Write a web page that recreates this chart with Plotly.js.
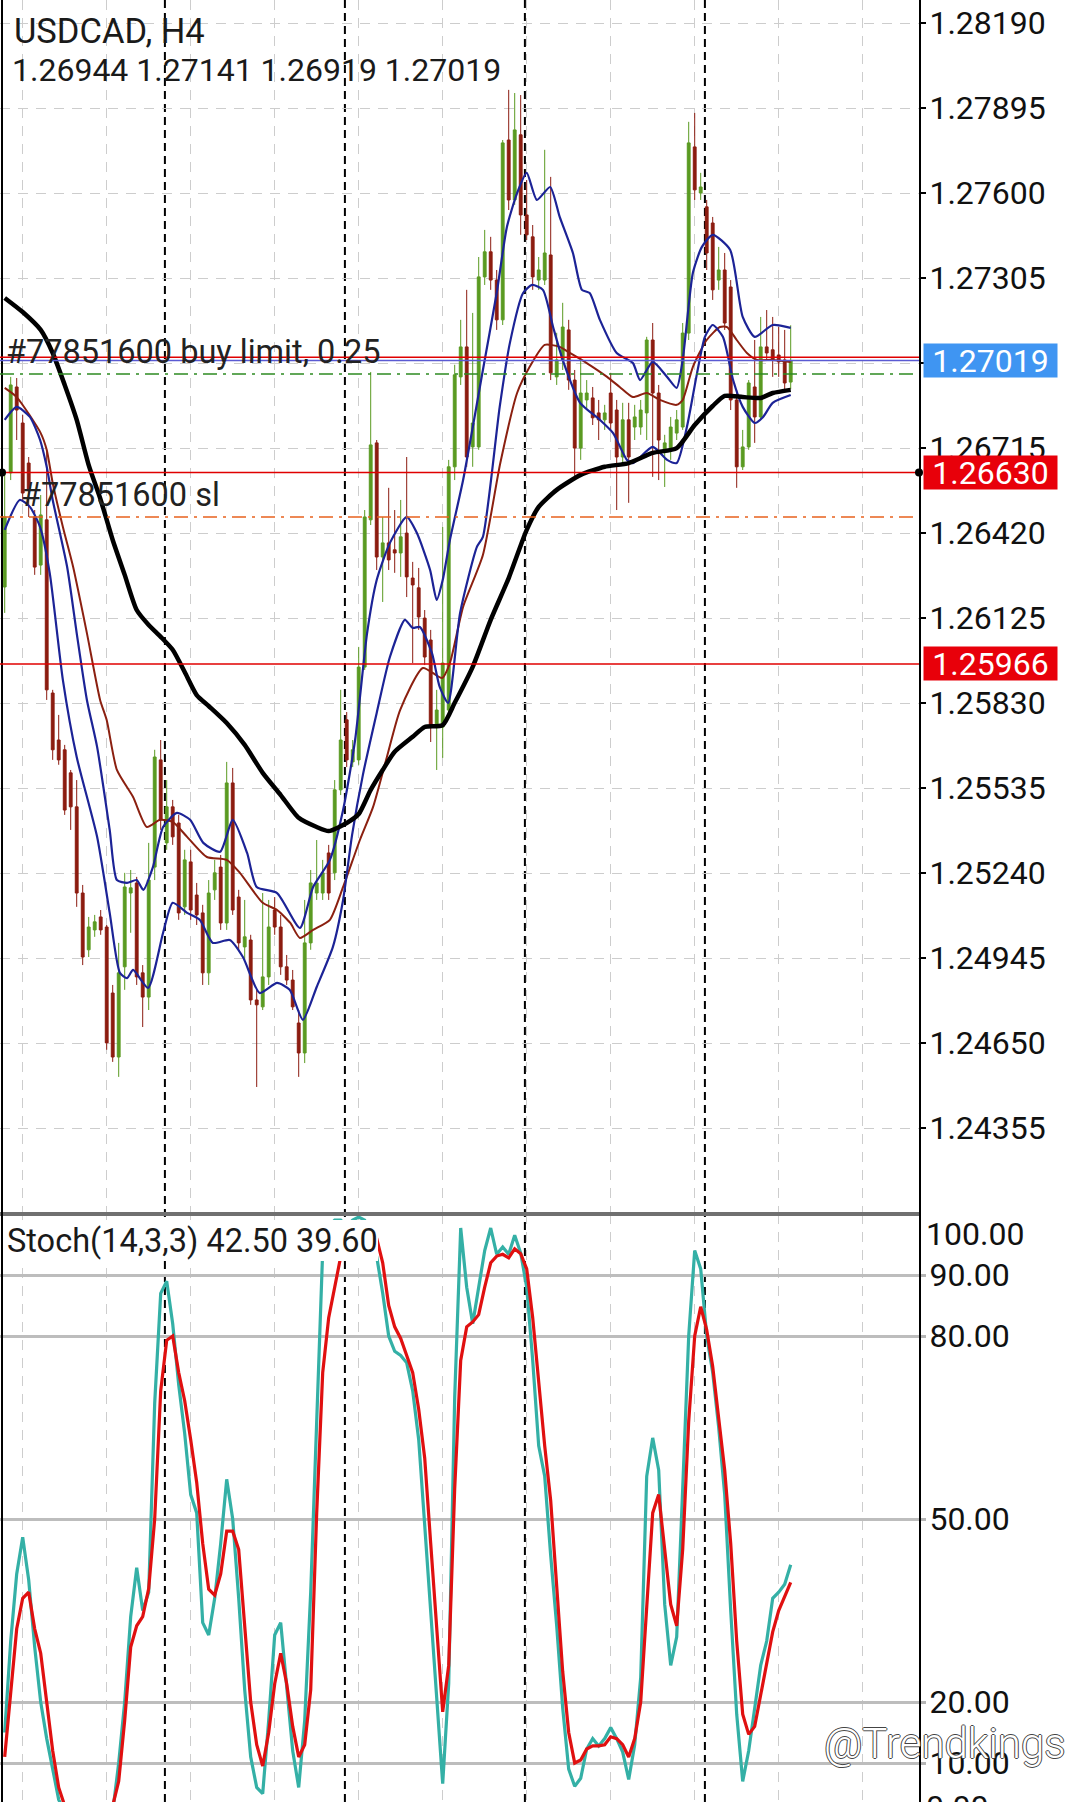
<!DOCTYPE html>
<html><head><meta charset="utf-8">
<script src="https://cdn.plot.ly/plotly-3.0.1.min.js"></script>
<style>html,body{margin:0;padding:0;background:#fff;}#chart{width:1080px;height:1802px;}</style>
</head><body><div id="chart"></div>
<script>
// ---------- DATA ----------
const symbolTitle = "USDCAD, H4";
const lastBarText = "1.26944 1.27141 1.26919 1.27019";
const stochTitle = "Stoch(14,3,3) 42.50 39.60";

const opens = [1.26233,1.26629,1.26927,1.26802,1.26663,1.26476,1.26309,1.26466,1.25865,1.25702,
1.25668,1.25588,1.25470,1.25171,1.24974,1.25043,1.25088,1.25053,1.24824,1.24602,
1.24915,1.25171,1.25206,1.24894,1.24810,1.25261,1.25633,1.25345,1.25470,1.25414,
1.25123,1.25279,1.25164,1.25102,1.24894,1.25182,1.25261,1.25067,1.25553,1.25157,
1.24984,1.25008,1.24800,1.24776,1.24880,1.25112,1.25053,1.24915,1.24869,1.24720,
1.24616,1.24998,1.25171,1.25171,1.25310,1.25241,1.25529,1.25772,1.25626,1.25633,
1.25955,1.26466,1.26733,1.26337,1.26386,1.26362,1.26351,1.26420,1.26264,1.26230,
1.26125,1.26049,1.25747,1.25747,1.25806,1.26650,1.26962,1.27066,1.26719,1.26719,
1.27309,1.27396,1.27298,1.27160,1.27784,1.27576,1.27802,1.27524,1.27448,1.27298,
1.27298,1.27385,1.26962,1.27021,1.27125,1.26951,1.26715,1.26882,1.26889,1.26837,
1.26813,1.26906,1.26847,1.26684,1.26813,1.26788,1.26788,1.26837,1.27090,1.26906,
1.26709,1.26709,1.26767,1.26788,1.27114,1.27760,1.27600,1.27552,1.27496,1.27298,
1.27333,1.27274,1.26882,1.26650,1.26719,1.26927,1.26823,1.27066,1.27056,1.27038,
1.27021,1.26944];
const highs = [1.26629,1.26962,1.26958,1.26830,1.26684,1.26500,1.26552,1.26709,1.25876,1.25789,
1.25685,1.25598,1.25563,1.25199,1.25088,1.25095,1.25112,1.25060,1.24852,1.24998,
1.25241,1.25251,1.25227,1.24921,1.25345,1.25668,1.25702,1.25563,1.25494,1.25442,
1.25321,1.25321,1.25206,1.25130,1.25216,1.25286,1.25303,1.25626,1.25605,1.25182,
1.25147,1.25026,1.24835,1.25171,1.25147,1.25157,1.25095,1.24956,1.24904,1.24765,
1.25147,1.25251,1.25355,1.25286,1.25338,1.25563,1.25876,1.25799,1.25702,1.26025,
1.26500,1.26979,1.26743,1.26476,1.26577,1.26500,1.26535,1.26684,1.26320,1.26299,
1.26153,1.26084,1.25876,1.26441,1.26674,1.27004,1.27160,1.27264,1.27184,1.27378,
1.27472,1.27448,1.27333,1.27784,1.27958,1.27947,1.27940,1.27645,1.27489,1.27378,
1.27750,1.27656,1.27115,1.27219,1.27160,1.26986,1.27031,1.26951,1.26927,1.26882,
1.26865,1.26976,1.26882,1.26872,1.26872,1.26865,1.26882,1.27101,1.27149,1.26934,
1.26761,1.26823,1.26847,1.27149,1.27847,1.27878,1.27670,1.27576,1.27517,1.27413,
1.27392,1.27298,1.26917,1.26778,1.26951,1.27090,1.27170,1.27194,1.27170,1.27135,
1.27125,1.27141];
const lows = [1.26143,1.26604,1.26743,1.26535,1.26476,1.26275,1.26275,1.25841,1.25633,1.25616,
1.25442,1.25390,1.25123,1.24921,1.24949,1.25019,1.25026,1.24627,1.24585,1.24533,
1.24835,1.25033,1.24852,1.24706,1.24765,1.25216,1.25390,1.25321,1.25338,1.25078,
1.25095,1.25078,1.25060,1.24852,1.24852,1.25147,1.25043,1.25043,1.25095,1.24974,
1.24939,1.24783,1.24498,1.24765,1.24852,1.25026,1.24887,1.24852,1.24765,1.24533,
1.24581,1.24974,1.25147,1.25147,1.25147,1.25216,1.25511,1.25608,1.25608,1.25616,
1.25945,1.26448,1.26292,1.26181,1.26292,1.26282,1.26268,1.26198,1.25969,1.26084,
1.25962,1.25695,1.25598,1.25640,1.25789,1.26604,1.26934,1.26650,1.26650,1.26709,
1.27281,1.27264,1.27125,1.27142,1.27541,1.27559,1.27455,1.27437,1.27264,1.27264,
1.27281,1.26951,1.26934,1.26986,1.26917,1.26604,1.26674,1.26847,1.26795,1.26743,
1.26778,1.26778,1.26500,1.26656,1.26525,1.26743,1.26761,1.26743,1.26615,1.26604,
1.26580,1.26674,1.26743,1.26778,1.27090,1.27576,1.27576,1.27333,1.27229,1.27264,
1.27125,1.26847,1.26577,1.26639,1.26709,1.26733,1.26813,1.27021,1.26962,1.26962,
1.26917,1.26919];
const closes = [1.26476,1.26934,1.26847,1.26559,1.26570,1.26302,1.26483,1.25876,1.25668,1.25633,
1.25459,1.25470,1.25171,1.24949,1.25053,1.25071,1.25043,1.24651,1.24602,1.24894,
1.25192,1.25189,1.24880,1.24810,1.25216,1.25643,1.25425,1.25470,1.25366,1.25102,
1.25286,1.25112,1.25095,1.24894,1.25171,1.25241,1.25067,1.25553,1.25112,1.24998,
1.25019,1.24800,1.24783,1.24880,1.25053,1.25053,1.24915,1.24869,1.24776,1.24616,
1.24998,1.25206,1.25206,1.25241,1.25171,1.25529,1.25702,1.25633,1.25668,1.25955,
1.26476,1.26726,1.26337,1.26386,1.26327,1.26351,1.26407,1.26268,1.26240,1.26129,
1.25990,1.25747,1.25806,1.25969,1.26650,1.26969,1.27066,1.26684,1.26802,1.27309,
1.27396,1.27298,1.27160,1.27774,1.27576,1.27819,1.27524,1.27455,1.27309,1.27333,
1.27392,1.26976,1.27021,1.27135,1.26951,1.26715,1.26906,1.26906,1.26820,1.26813,
1.26837,1.26802,1.26684,1.26813,1.26684,1.26823,1.26847,1.27090,1.26906,1.26743,
1.26733,1.26788,1.26813,1.27114,1.27774,1.27611,1.27621,1.27392,1.27264,1.27333,
1.27149,1.26882,1.26650,1.26719,1.26941,1.26823,1.27066,1.27045,1.27021,1.27014,
1.26941,1.27019];

// moving averages (read at bar positions)
const maBlackX = [0,3,6,8,10,12,14,16,18,20,22,24,26,28,30,32,34,37,40,43,46,49,52,54,57,59,61,63,65,68,70,73,75,78,81,84,87,89,92,96,100,104,108,112,115,118,120,123,126,128,131];
const maBlackY = [1.27236,1.27187,1.27125,1.27045,1.26934,1.26813,1.26656,1.26535,1.26396,1.26275,1.26153,1.26101,1.26060,1.26015,1.25938,1.25858,1.25820,1.25761,1.25685,1.25588,1.25511,1.25432,1.25400,1.25386,1.25414,1.25445,1.25529,1.25598,1.25661,1.25713,1.25747,1.25754,1.25831,1.25956,1.26119,1.26264,1.26431,1.26511,1.26570,1.26622,1.26650,1.26663,1.26698,1.26715,1.26795,1.26861,1.26896,1.26892,1.26889,1.26906,1.26917];
const maBrownX = [0,2,6,7,8,9.7,11.4,13.7,15.9,17,18.7,21.4,23.7,25.9,28,30.4,33.7,37,39.2,43,45.4,47.6,49.2,51.4,54.2,56.4,59.2,61.4,63.7,65.9,69.7,72.9,74.2,76.4,79.7,82.6,85.4,87.5,90,92.5,94.2,97,100.4,102.5,104.7,107,109.2,112,113,114.7,117,119.2,120.4,122,123.7,125.4,128,131];
const maBrownY = [1.26924,1.26892,1.26767,1.26709,1.26594,1.26441,1.26303,1.26073,1.25841,1.25771,1.25598,1.25504,1.25400,1.25425,1.25418,1.25366,1.25296,1.25286,1.25241,1.25137,1.25112,1.25067,1.25015,1.25043,1.25078,1.25192,1.25355,1.25470,1.25643,1.25806,1.25952,1.25917,1.25969,1.26164,1.26344,1.26663,1.26906,1.26997,1.27073,1.27066,1.27045,1.27010,1.26962,1.26927,1.26892,1.26906,1.26882,1.26865,1.26882,1.26997,1.27090,1.27135,1.27135,1.27090,1.27045,1.27021,1.27021,1.27014];
const maBlueHiX = [0,2,4.2,5.9,7,8,10.4,12,13.7,15.4,17.5,18.7,20.4,22,23.1,24.7,26.4,28.7,30.9,33.1,35.9,38,40.4,42,45.4,49.2,51.4,54.2,56.4,58.4,60.4,62,64.2,67,68.7,70.9,72,73,74.2,76.4,79.7,82,83.7,85.4,87,88.7,90.9,92.5,94.7,96.2,97.5,99.2,102,104.7,105.9,108,110.4,112,113,114.7,116.2,118,120.9,123,125,128,131];
const maBlueHiY = [1.26813,1.26858,1.26823,1.26743,1.26650,1.26535,1.26303,1.26073,1.25841,1.25678,1.25390,1.25216,1.25206,1.25216,1.25182,1.25261,1.25400,1.25449,1.25425,1.25345,1.25314,1.25425,1.25310,1.25192,1.25171,1.25050,1.25192,1.25286,1.25459,1.25702,1.26073,1.26257,1.26386,1.26476,1.26420,1.26292,1.26188,1.26257,1.26396,1.26604,1.26986,1.27253,1.27482,1.27600,1.27670,1.27576,1.27621,1.27517,1.27392,1.27264,1.27253,1.27160,1.27045,1.27010,1.26951,1.27014,1.26962,1.26924,1.27021,1.27323,1.27413,1.27455,1.27403,1.27170,1.27101,1.27142,1.27132];
const maBlueLoX = [0,2.5,4.2,5.9,7.5,9.7,12,15.4,17.5,19.2,20.4,21.4,23.9,26.4,28,30.4,32.5,34.7,37.5,39.7,42.5,45.4,47.5,49.7,52,54.7,56.4,57.9,59.7,62,64.2,66.7,68,69.2,71.2,72.5,73.9,75.9,78.7,79.7,82.5,84.2,86.4,87.9,89.7,91.4,93,95.9,99.2,101.4,103.7,104.7,108,110.4,112,113.7,115.4,116.7,118,119.7,121.4,123,125,126.4,128,131];
const maBlueLoY = [1.26431,1.26535,1.26511,1.26441,1.26282,1.25910,1.25643,1.25366,1.25102,1.24894,1.24876,1.24904,1.24842,1.25033,1.25137,1.25102,1.25078,1.24998,1.25008,1.24949,1.24824,1.24859,1.24835,1.24731,1.24845,1.24984,1.25147,1.25373,1.25581,1.25796,1.25990,1.26119,1.26091,1.26094,1.26004,1.25886,1.25831,1.26143,1.26372,1.26407,1.26858,1.27080,1.27253,1.27281,1.27264,1.27135,1.27021,1.26872,1.26813,1.26767,1.26674,1.26663,1.26719,1.26674,1.26663,1.26788,1.26976,1.27101,1.27142,1.27101,1.26951,1.26858,1.26802,1.26823,1.26872,1.26899];

// stochastic %K (main) and %D (signal), one per bar
const stochK = [15,30,41,47,40,29,20,14,9,4, 2,1,0.5,1,0.5,1,3.5,1.5,2,10,
20,34,42,35,38,69,87,89,82,72, 64,54,51,33,31,37,46,56.5,50,37,
22,11,6,5,17,31,33,23,12,6, 17,38,68,94,98,99,99,98,99,99.5,
99,97,93,87,80,77.5,76.8,75.6,71,63, 49,35,21,6.6,23,70,97.7,88,82,88,
94,97.7,93.4,94.6,93.4,96.5,93.6,88,76,62, 57,44,32.5,19,9,6.2,7.5,12.3,14,12.8,
14,15.8,14,11.8,7.3,13,24,57,63.3,58, 36,26,30.7,55,80,94,91,80,74,65,
54,35,18,7,12,19,26,30,37,38, 39.3,42.5];
const stochD = [11,21,32,37,38,32,28,20,12,6, 3,1.5,0.8,0.8,0.8,1,1.8,2.2,3,7,
17,29,32.5,34,38.6,50,71,79.3,80,74, 69.4,63,56,46,38.5,37.5,41,48,48,45,
33,20,13,9.5,15,23,28,23,16,11, 13,22,51,74,83,88,93,96,97.5,98,
98,97.5,96,92,85,81.5,79.6,76.8,74,68, 60,46,33,18.4,26,55,76,81.5,82.3,83.5,
88,92,93.1,93.4,92.8,94.3,93.5,91,83,72, 62,53,38,25,15,10,10.5,12.3,12.8,12.8,
13,14.3,14,13,11,14,20,36,51,54, 45,36,32.5,45,66,80,84.8,81,75,67,
58,46,30,18,14.7,16,21,26.5,31.5,35, 37.4,39.6];

// axes / levels
const priceTicks = [1.28190,1.27895,1.27600,1.27305,1.27010,1.26715,1.26420,1.26125,1.25830,1.25535,1.25240,1.24945,1.24650,1.24355];
const stochTicks = [90,80,50,20,10];
const gridBars = [3,17,31,45,59,73,87,101,115,129,143];
const periodSeparators = [26.7,56.7,86.7,116.7];
const bidPrice = 1.27019;
const userLine = 1.27030;
const alertLevels = [1.26630,1.25966];
const buyLimitPrice = 1.26972;
const stopLossPrice = 1.26476;
const orderLabel = "#77851600 buy limit, 0.25";
const slLabel = "#77851600 sl";
const watermark = "@Trendkings";

// ---------- CHART ----------
const FONT = 'Roboto, "Noto Sans", Arial, sans-serif';
const W = 1080, H = 1802, PW = 919;
const splitPx = 1214;
const split = 1 - splitPx / H;
const idx = closes.map((_, k) => k);
const xRange = [-0.783, 152.383];

const traces = [
  {type:'candlestick', x:idx, open:opens, high:highs, low:lows, close:closes, xaxis:'x', yaxis:'y',
   increasing:{line:{color:'#5a9a22', width:1}, fillcolor:'#5a9a22'},
   decreasing:{line:{color:'#8c1c10', width:1}, fillcolor:'#8c1c10'},
   whiskerwidth:0, hoverinfo:'skip'},
  {type:'scatter', mode:'lines', x:maBrownX, y:maBrownY, xaxis:'x', yaxis:'y', line:{color:'#8b2010', width:2, shape:'spline', smoothing:0.6}, hoverinfo:'skip'},
  {type:'scatter', mode:'lines', x:maBlueHiX, y:maBlueHiY, xaxis:'x', yaxis:'y', line:{color:'#1c2396', width:2.2, shape:'spline', smoothing:0.6}, hoverinfo:'skip'},
  {type:'scatter', mode:'lines', x:maBlueLoX, y:maBlueLoY, xaxis:'x', yaxis:'y', line:{color:'#1c2396', width:2.2, shape:'spline', smoothing:0.6}, hoverinfo:'skip'},
  {type:'scatter', mode:'lines', x:maBlackX, y:maBlackY, xaxis:'x', yaxis:'y', line:{color:'#000', width:4.5, shape:'spline', smoothing:0.6}, hoverinfo:'skip'},
  {type:'scatter', mode:'lines', x:idx, y:stochK, xaxis:'x2', yaxis:'y2', line:{color:'#34b0a6', width:3.2}, hoverinfo:'skip'},
  {type:'scatter', mode:'lines', x:idx, y:stochD, xaxis:'x2', yaxis:'y2', line:{color:'#e01010', width:3.2}, hoverinfo:'skip'}
];

const gridCommon = {showgrid:true, gridcolor:'#cdcdcd', gridwidth:1, griddash:'10px,8px', zeroline:false};
const shapes = [];
periodSeparators.forEach(s => shapes.push({type:'line', xref:'x', yref:'paper', x0:s, x1:s, y0:0, y1:1, layer:'below', line:{color:'#000', width:2, dash:'8px,5px'}}));
// white box behind the indicator name (hides the lines beneath it, as in the terminal)
shapes.push({type:'rect', xref:'paper', yref:'paper', x0:3/PW, x1:378/PW, y0:1-1261/H, y1:1-1220/H, layer:'above', fillcolor:'#fff', line:{width:0}});
shapes.push({type:'line', xref:'paper', yref:'paper', x0:0, x1:1, y0:split, y1:split, line:{color:'#707070', width:4}});
shapes.push({type:'line', xref:'paper', yref:'paper', x0:2/PW, x1:2/PW, y0:0, y1:1, line:{color:'#000', width:2}});
shapes.push({type:'line', xref:'paper', yref:'y', x0:0, x1:1, y0:userLine, y1:userLine, line:{color:'#e00000', width:1.5}});
shapes.push({type:'line', xref:'paper', yref:'y', x0:0, x1:1, y0:bidPrice, y1:bidPrice, line:{color:'#5a5ad2', width:1.5}});
alertLevels.forEach(v => shapes.push({type:'line', xref:'paper', yref:'y', x0:0, x1:1, y0:v, y1:v, line:{color:'#e00000', width:1.5}}));
shapes.push({type:'line', xref:'paper', yref:'y', x0:0, x1:1, y0:buyLimitPrice, y1:buyLimitPrice, line:{color:'#2e8b22', width:1.5, dash:'14px,6px,3px,6px'}});
shapes.push({type:'line', xref:'paper', yref:'y', x0:0, x1:1, y0:stopLossPrice, y1:stopLossPrice, line:{color:'#e8621e', width:1.5, dash:'14px,6px,3px,6px'}});
[2/PW, 1].forEach(px => shapes.push({type:'circle', xref:'paper', yref:'y', xsizemode:'pixel', ysizemode:'pixel', xanchor:px, yanchor:alertLevels[0], x0:-4, x1:4, y0:-4, y1:4, fillcolor:'#000', line:{color:'#000', width:0}}));

const boxAnn = (val, bg) => ({xref:'paper', x:923/PW, xanchor:'left', yref:'y', y:val, yanchor:'middle', text:val.toFixed(5), showarrow:false,
  bgcolor:bg, width:133, height:33, borderpad:0, align:'center', font:{family:FONT, size:32, color:'#fff'}});

const annotations = [
  {xref:'paper', x:12/PW, xanchor:'left', yref:'paper', y:1-31/H, yanchor:'middle', text:symbolTitle, showarrow:false, font:{family:FONT, size:34.5, color:'#1a1a1a'}},
  {xref:'paper', x:10/PW, xanchor:'left', yref:'paper', y:1-70/H, yanchor:'middle', text:lastBarText, showarrow:false, font:{family:FONT, size:32, color:'#1a1a1a'}},
  {xref:'paper', x:4/PW, xanchor:'left', yref:'y', y:buyLimitPrice, yanchor:'bottom', yshift:1, text:orderLabel, showarrow:false, font:{family:FONT, size:32.5, color:'#222'}},
  {xref:'paper', x:19/PW, xanchor:'left', yref:'y', y:stopLossPrice, yanchor:'bottom', yshift:1, text:slLabel, showarrow:false, font:{family:FONT, size:32.5, color:'#222'}},
  boxAnn(bidPrice, '#3f95f2'),
  boxAnn(alertLevels[0], '#e8000a'),
  boxAnn(alertLevels[1], '#e8000a'),
  {xref:'paper', x:5/PW, xanchor:'left', yref:'paper', y:1-1241/H, yanchor:'middle', text:stochTitle, showarrow:false, font:{family:FONT, size:32.5, color:'#1a1a1a'}},
  {xref:'paper', x:924/PW, xanchor:'left', yref:'y2', y:100, yanchor:'middle', yshift:-20, text:(100).toFixed(2), showarrow:false, font:{family:FONT, size:32, color:'#111'}},
  {xref:'paper', x:924/PW, xanchor:'left', yref:'paper', y:0, yanchor:'middle', yshift:-5, text:(0).toFixed(2), showarrow:false, font:{family:FONT, size:32, color:'#111'}},
  {xref:'paper', x:1068/PW, xanchor:'right', yref:'paper', y:1-1743/H, yanchor:'middle', text:watermark, showarrow:false,
   font:{family:FONT, size:42, weight:300, color:'#ffffff', shadow:'-1px 0 #444, 1px 0 #444, 0 1px #444, 0 -1px #444'}}
];

const layout = {
  width:W, height:H, margin:{l:0, r:W-PW, t:0, b:0},
  paper_bgcolor:'#fff', plot_bgcolor:'#fff', showlegend:false, boxgap:0.33,
  xaxis: Object.assign({domain:[0,1], anchor:'y', range:xRange, tickvals:gridBars, showticklabels:false, ticks:'', rangeslider:{visible:false}, fixedrange:true}, gridCommon),
  xaxis2: Object.assign({domain:[0,1], anchor:'y2', range:xRange, tickvals:gridBars, showticklabels:false, ticks:'', fixedrange:true}, gridCommon),
  yaxis: Object.assign({domain:[split,1], anchor:'x', range:[1.240572,1.282698], side:'right', tickvals:priceTicks, tickformat:'.5f',
    ticks:'outside', ticklen:5, tickcolor:'#000', tickwidth:1.5, showline:true, linecolor:'#000', linewidth:2, ticklabelstandoff:-3,
    tickfont:{family:FONT, size:32, color:'#111'}, fixedrange:true}, gridCommon),
  yaxis2: {domain:[0,split], anchor:'x2', range:[3.61,100], side:'right', tickvals:stochTicks, tickformat:'.2f',
    ticks:'outside', ticklen:5, tickcolor:'#b5b5b5', tickwidth:3, showline:true, linecolor:'#000', linewidth:2, ticklabelstandoff:-3,
    showgrid:true, gridcolor:'#bdbdbd', gridwidth:3, zeroline:false,
    tickfont:{family:FONT, size:32, color:'#111'}, fixedrange:true},
  shapes:shapes, annotations:annotations
};

Plotly.newPlot('chart', traces, layout, {staticPlot:true, displayModeBar:false});
</script>
</body></html>
